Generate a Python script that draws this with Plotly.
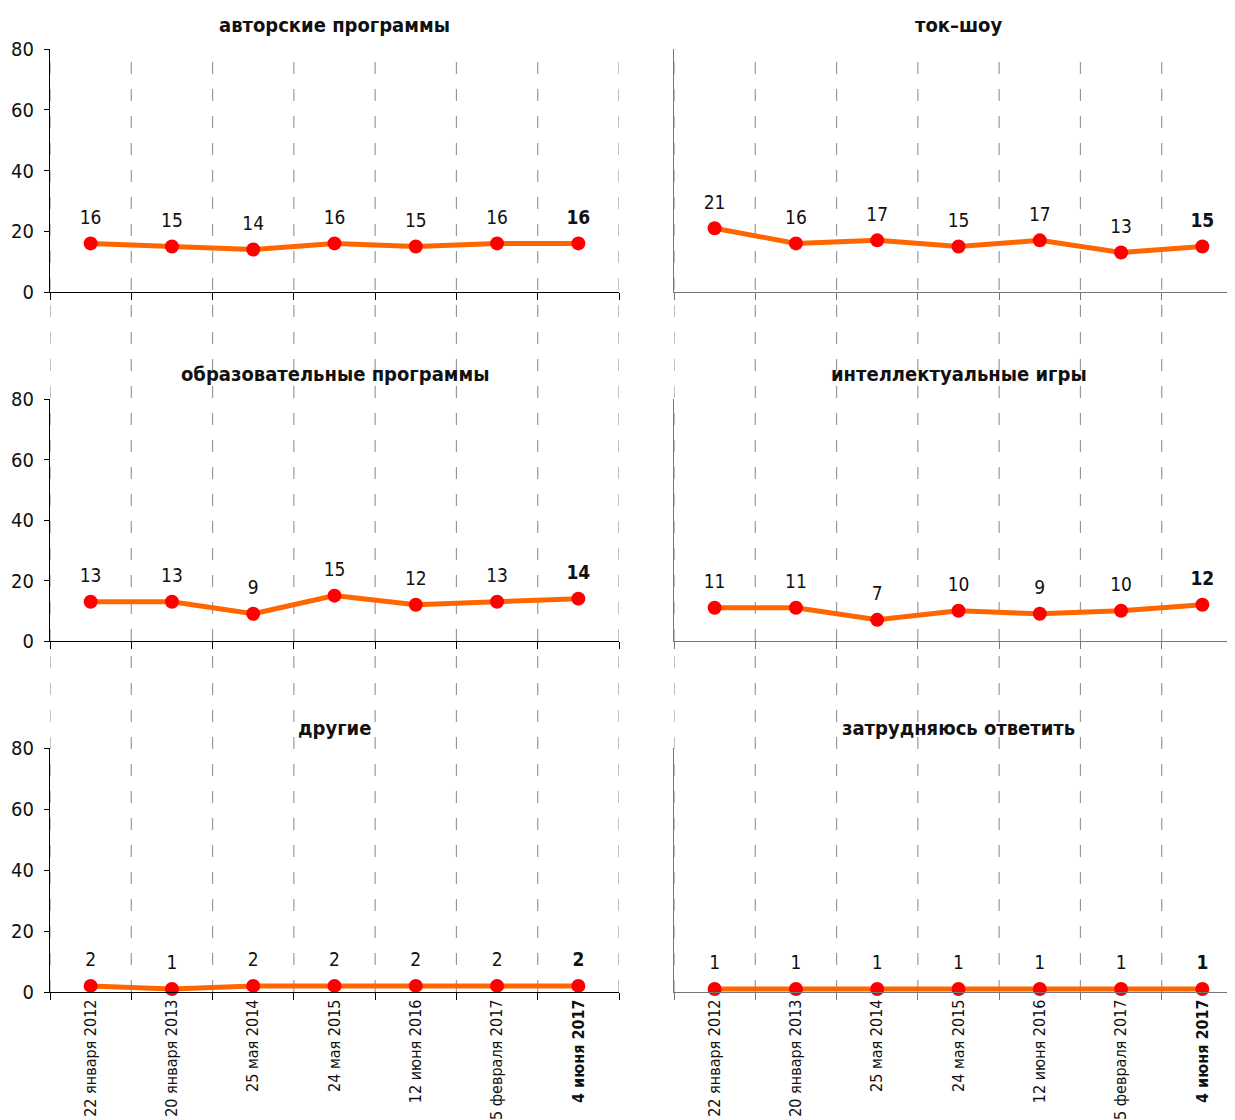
import plotly.graph_objects as go
from plotly.subplots import make_subplots

dates = ["22 января 2012", "20 января 2013", "25 мая 2014", "24 мая 2015",
         "12 июня 2016", "5 февраля 2017", "4 июня 2017"]

titles = ["авторские программы", "ток–шоу", "образовательные программы",
          "интеллектуальные игры", "другие", "затрудняюсь ответить"]

avtorskie = [16, 15, 14, 16, 15, 16, 16]
tok_shou = [21, 16, 17, 15, 17, 13, 15]
obrazovatelnye = [13, 13, 9, 15, 12, 13, 14]
intellektualnye = [11, 11, 7, 10, 9, 10, 12]
drugie = [2, 1, 2, 2, 2, 2, 2]
zatrudnyayus = [1, 1, 1, 1, 1, 1, 1]

series = [avtorskie, tok_shou, obrazovatelnye, intellektualnye, drugie, zatrudnyayus]

FONT = "DejaVu Sans Condensed, Liberation Sans Narrow, Arial Narrow, sans-serif"
LINE = "#FF6600"
MARK = "#FF0000"

W, H = 1235, 1120
fig = make_subplots(rows=3, cols=2, horizontal_spacing=0.05, vertical_spacing=0.05)

# panel layout in figure pixels
col_x = [(42 / W, 611 / W), (666 / W, 1.0)]
row_y = [(1 - 284 / H, 1 - 41 / H), (1 - 633 / H, 1 - 391 / H), (1 - 984 / H, 1 - 740 / H)]
title_y = [17, 366, 720]

n = len(dates)
tick_text = dates[:-1] + ["<b>" + dates[-1] + "</b>"]

for k, vals in enumerate(series):
    r, c = k // 2 + 1, k % 2 + 1
    txt = [str(v) for v in vals[:-1]] + ["<b>" + str(vals[-1]) + "</b>"]
    fig.add_trace(go.Scatter(
        x=dates, y=vals, mode="lines+markers",
        line=dict(color=LINE, width=5),
        marker=dict(color=MARK, size=14),
        cliponaxis=False, showlegend=False, hoverinfo="skip"),
        row=r, col=c)
    fig.add_trace(go.Scatter(
        x=dates, y=vals, mode="markers+text",
        marker=dict(size=22, opacity=0),
        text=txt, textposition="top center",
        textfont=dict(family=FONT, size=19, color="#111"),
        cliponaxis=False, showlegend=False, hoverinfo="skip"),
        row=r, col=c)
    axis_col = "#000" if c == 1 else "#777"
    fig.update_xaxes(
        domain=col_x[c - 1], type="category", categoryorder="array", categoryarray=dates,
        range=[-0.5, n - 0.5],
        showline=True, linecolor=axis_col, linewidth=1.3,
        ticks="outside", tickson="boundaries", ticklen=7, tickcolor=axis_col,
        showgrid=False, zeroline=False, automargin=False,
        showticklabels=(r == 3), tickangle=-90,
        tickvals=dates, ticktext=tick_text,
        tickfont=dict(family=FONT, size=16, color="#111"),
        row=r, col=c)
    fig.update_yaxes(
        domain=row_y[r - 1], range=[0, 80], dtick=20,
        showline=True, linecolor=axis_col, linewidth=1.3,
        ticks="outside" if c == 1 else "", ticklen=5, tickcolor=axis_col,
        showticklabels=(c == 1), showgrid=False, zeroline=False, automargin=False,
        ticklabelstandoff=6,
        tickfont=dict(family=FONT, size=20, color="#111"),
        row=r, col=c)
    fig.add_annotation(
        text=titles[k], xref="paper", yref="paper",
        x=sum(col_x[c - 1]) / 2,
        y=1 - title_y[r - 1] / H, yanchor="middle", xanchor="center",
        showarrow=False,
        font=dict(family=FONT, size=20, color="#111", weight="bold"))

# dashed category boundaries spanning whole column
for c, xref in [(1, "x"), (2, "x2")]:
    for i in range(n + 1):
        fig.add_shape(type="line", xref=xref, yref="paper",
                      x0=i - 0.5, x1=i - 0.5, y0=row_y[2][0], y1=row_y[0][1] + 2 / H,
                      line=dict(color="#999", width=1.2, dash="12px,15px"),
                      layer="below")

fig.update_layout(
    width=W, height=H, margin=dict(l=0, r=0, t=0, b=0, autoexpand=False),
    paper_bgcolor="white", plot_bgcolor="rgba(0,0,0,0)",
    font=dict(family=FONT, color="#111"))

fig.write_html("out.html")
